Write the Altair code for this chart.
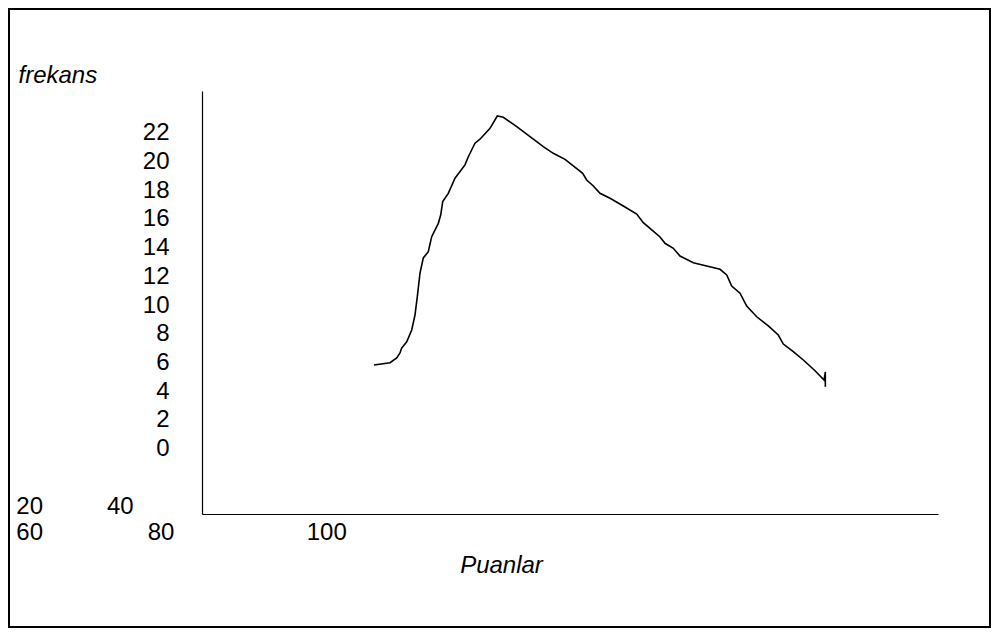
import altair as alt
import pandas as pd

# ---- data ----
puan = [20.38, 23.21, 24.39, 24.97, 25.27, 26.16, 27.04, 27.62, 28.03, 28.51,
        29.09, 29.97, 30.57, 31.74, 32.16, 32.52, 33.50, 34.69, 36.45, 37.04,
        38.22, 39.10, 40.87, 42.16, 43.22, 45.59, 47.94, 50.28, 52.05, 54.12,
        55.58, 57.24, 57.95, 59.12, 60.30, 62.07, 64.42, 66.78, 67.95, 69.13,
        70.90, 71.78, 73.25, 74.43, 76.78, 79.15, 81.50, 82.68, 83.56, 85.03,
        86.21, 87.98, 90.03, 91.79, 92.68, 94.44, 96.21, 98.28, 99.87, 100.10,
        100.10]
frekans = [5.82, 5.98, 6.31, 6.66, 7.00, 7.44, 8.26, 9.30, 10.58, 12.23,
           13.28, 13.71, 14.76, 15.69, 16.27, 17.20, 17.78, 18.83, 19.76, 20.33,
           21.27, 21.55, 22.31, 23.17, 23.08, 22.43, 21.73, 21.03, 20.57, 20.15,
           19.69, 19.18, 18.71, 18.29, 17.78, 17.44, 16.90, 16.34, 15.74, 15.34,
           14.74, 14.30, 13.95, 13.41, 12.95, 12.72, 12.49, 12.09, 11.32, 10.82,
           9.93, 9.18, 8.54, 7.91, 7.28, 6.75, 6.17, 5.42, 4.77, 5.35,
           4.31]
y_tick_values = [0, 2, 4, 6, 8, 10, 12, 14, 16, 18, 20, 22]
x_tick_labels = ["20", "40", "60", "80", "100"]
# where the (wrapped) x labels sit, in the chart's own units
x_label_pos = [-42.8, -26.8, -42.8, -19.6, 8.5]
x_label_row = [-4.53, -4.53, -6.34, -6.34, -6.34]

x_domain = [-10, 120]
y_domain = [-4.56, 24.91]

curve = pd.DataFrame({"Puanlar": puan, "frekans": frekans,
                      "i": list(range(len(puan)))})
labels = pd.DataFrame({"t": x_tick_labels, "x": x_label_pos, "y": x_label_row})

FONT = "Liberation Sans"
W, H = 736, 423

xs = alt.Scale(domain=x_domain, nice=False, zero=False)
ys = alt.Scale(domain=y_domain, nice=False, zero=False)

x_axis = alt.Axis(labels=False, ticks=False, grid=False,
                  domainColor="black", domainWidth=1.2,
                  title="Puanlar", titleFont=FONT, titleFontSize=24,
                  titleFontStyle="italic", titleFontWeight="normal",
                  titleColor="black", titleAlign="center",
                  titleAnchor="start", titleX=299, titleY=58.5,
                  titleBaseline="alphabetic")
y_axis = alt.Axis(values=y_tick_values, ticks=False, tickSize=0,
                  grid=False, domainColor="black", domainWidth=1.2,
                  labelFont=FONT, labelFontSize=24, labelColor="black",
                  labelPadding=33, labelAlign="right",
                  labelOverlap=False, labelFlush=False,
                  title="frekans", titleFont=FONT, titleFontSize=24,
                  titleFontStyle="italic", titleFontWeight="normal",
                  titleColor="black", titleAngle=0, titleAlign="left",
                  titleX=-184, titleY=-8.5, titleBaseline="alphabetic")

line = alt.Chart(curve).mark_line(color="black", strokeWidth=1.6,
                                  interpolate="linear").encode(
    x=alt.X("Puanlar:Q", scale=xs, axis=x_axis, title="Puanlar"),
    y=alt.Y("frekans:Q", scale=ys, axis=y_axis, title="frekans"),
    order="i:Q",
)

xlab = alt.Chart(labels).mark_text(font=FONT, fontSize=24, color="black",
                                   align="left", baseline="alphabetic").encode(
    x=alt.X("x:Q", scale=xs, axis=x_axis, title="Puanlar"),
    y=alt.Y("y:Q", scale=ys, axis=y_axis, title="frekans"),
    text="t:N")

frame = alt.Chart(pd.DataFrame({"k": [0]})).mark_rect(
    fill=None, stroke="black", strokeWidth=2).encode(
    x=alt.value(-193), x2=alt.value(788), y=alt.value(-82), y2=alt.value(536))

chart = alt.layer(frame, line, xlab).properties(
    width=W, height=H,
    background="white",
    autosize=alt.AutoSizeParams(type="none"),
    padding={"left": 194, "top": 83, "right": 53, "bottom": 114},
).configure_view(stroke="transparent", strokeWidth=0)

chart.save("out.html", embed_options={"renderer": "svg", "actions": False})
